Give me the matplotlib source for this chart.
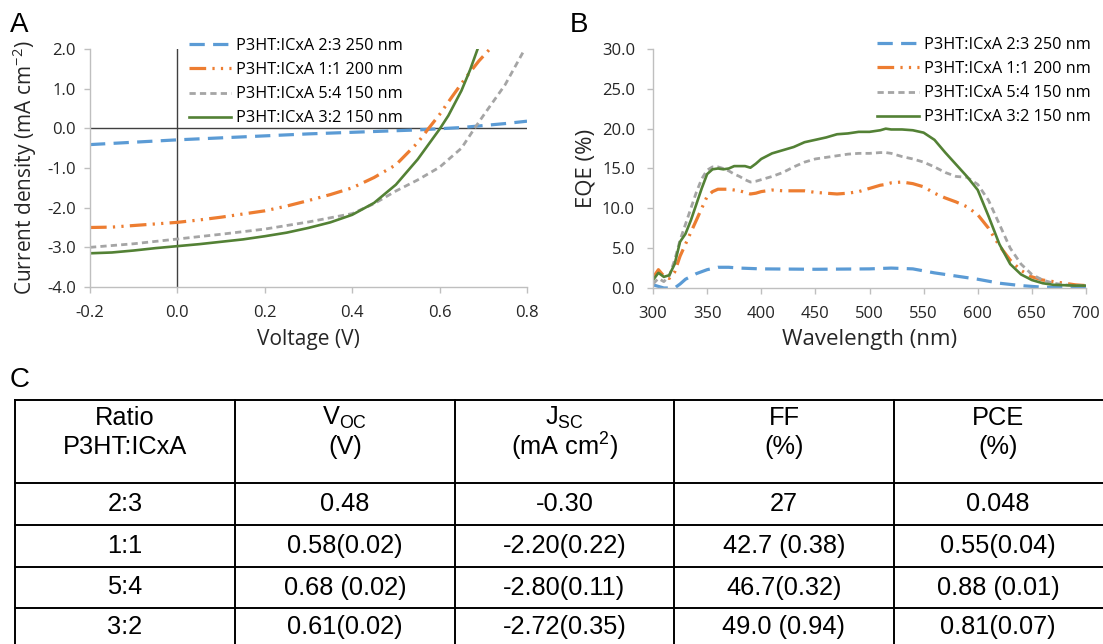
import matplotlib
matplotlib.use('Agg')
import matplotlib.pyplot as plt

plt.rcParams['font.family'] = ['Open Sans', 'DejaVu Sans']
plt.rcParams['lines.scale_dashes'] = False

# --- panel A: J-V curves ---
labels = ['P3HT:ICxA 2:3 250 nm', 'P3HT:ICxA 1:1 200 nm',
          'P3HT:ICxA 5:4 150 nm', 'P3HT:ICxA 3:2 150 nm']

v_23 = [-0.2, -0.1, 0.0, 0.1, 0.2, 0.3, 0.4, 0.5, 0.55, 0.6, 0.65, 0.7, 0.75, 0.8]
j_23 = [-0.41, -0.35, -0.29, -0.24, -0.19, -0.14, -0.10, -0.06, -0.04, -0.01, 0.02, 0.07, 0.12, 0.18]

v_11 = [-0.2, -0.15, -0.1, -0.05, 0.0, 0.05, 0.1, 0.15, 0.2, 0.25, 0.3, 0.35, 0.4,
        0.45, 0.5, 0.55, 0.575, 0.6, 0.63, 0.66, 0.69, 0.715]
j_11 = [-2.50, -2.49, -2.45, -2.41, -2.37, -2.31, -2.24, -2.16, -2.08, -1.96, -1.82, -1.67, -1.50,
        -1.24, -0.92, -0.36, 0.0, 0.35, 0.82, 1.28, 1.70, 2.0]

v_54 = [-0.2, -0.1, 0.0, 0.1, 0.2, 0.3, 0.4, 0.45, 0.5, 0.55, 0.6, 0.65, 0.68, 0.7, 0.75, 0.795]
j_54 = [-3.00, -2.91, -2.79, -2.67, -2.54, -2.36, -2.15, -1.90, -1.58, -1.30, -0.98, -0.50, 0.0,
        0.32, 1.10, 2.0]

v_32 = [-0.2, -0.15, -0.1, -0.05, 0.0, 0.05, 0.1, 0.15, 0.2, 0.25, 0.3, 0.35, 0.4, 0.45, 0.5,
        0.55, 0.6, 0.62, 0.65, 0.67, 0.687]
j_32 = [-3.15, -3.13, -3.08, -3.02, -2.97, -2.92, -2.86, -2.80, -2.72, -2.63, -2.51, -2.37, -2.18,
        -1.88, -1.42, -0.78, -0.02, 0.32, 0.95, 1.48, 2.0]

# --- panel B: EQE spectra ---
wl_23 = [300, 305, 310, 315, 320, 325, 330, 340, 350, 360, 370, 380, 400, 450, 500, 520, 540,
         560, 580, 600, 620, 640, 660, 680, 700]
eqe_23 = [0.4, 0.2, 0.0, 0.0, 0.0, 0.5, 1.1, 1.8, 2.3, 2.6, 2.6, 2.5, 2.4, 2.35, 2.4, 2.5, 2.4,
          1.9, 1.5, 1.1, 0.6, 0.3, 0.1, 0.05, 0.1]

wl = [300, 305, 310, 315, 320, 325, 330, 335, 340, 345, 350, 355, 360, 365, 370, 375, 380, 385,
      390, 395, 400, 410, 420, 430, 440, 450, 460, 470, 480, 490, 500, 510, 515, 520, 530, 540,
      550, 560, 570, 580, 590, 600, 610, 620, 630, 640, 650, 660, 670, 680, 690, 700]
eqe_11 = [1.3, 2.3, 1.5, 1.2, 2.0, 4.0, 5.5, 7.0, 8.5, 10.0, 11.5, 12.1, 12.4, 12.4, 12.4, 12.3,
          12.2, 12.0, 11.8, 11.9, 12.1, 12.3, 12.2, 12.2, 12.2, 12.0, 11.9, 11.8, 11.9, 12.1,
          12.5, 12.9, 13.0, 13.2, 13.3, 13.1, 12.7, 11.9, 11.3, 10.8, 10.2, 9.2, 7.5, 5.3, 3.5,
          2.2, 1.4, 1.0, 0.8, 0.6, 0.4, 0.3]
eqe_54 = [0.5, 1.2, 0.8, 1.5, 3.5, 6.0, 8.0, 10.0, 12.0, 13.7, 14.8, 15.2, 15.2, 15.0, 14.7,
          14.3, 14.0, 13.6, 13.3, 13.4, 13.6, 14.0, 14.5, 15.2, 15.8, 16.2, 16.4, 16.6, 16.8,
          16.9, 16.9, 17.0, 17.0, 16.9, 16.5, 16.2, 15.8, 15.2, 14.5, 14.0, 13.9, 13.0, 11.0,
          8.0, 5.0, 3.0, 1.7, 1.0, 0.6, 0.4, 0.3, 0.3]
eqe_32 = [1.0, 1.9, 1.4, 1.6, 3.0, 5.8, 6.8, 8.5, 10.5, 12.5, 14.3, 14.9, 15.0, 14.9, 15.0, 15.3,
          15.3, 15.3, 15.1, 15.6, 16.2, 16.9, 17.3, 17.7, 18.3, 18.6, 18.9, 19.3, 19.4, 19.6,
          19.6, 19.8, 20.0, 19.9, 19.9, 19.8, 19.5, 18.6, 17.0, 15.5, 14.0, 12.3, 9.0, 5.5,
          3.0, 1.7, 1.0, 0.6, 0.4, 0.35, 0.3, 0.3]

# --- panel C: table ---
col_heads = [['Ratio', 'P3HT:ICxA'],
             [r'V$_\mathregular{OC}$', '(V)'],
             [r'J$_\mathregular{SC}$', r'(mA cm$^\mathregular{2}$)'],
             ['FF', '(%)'],
             ['PCE', '(%)']]
ratios = ['2:3', '1:1', '5:4', '3:2']
voc = ['0.48', '0.58(0.02)', '0.68 (0.02)', '0.61(0.02)']
jsc = ['-0.30', '-2.20(0.22)', '-2.80(0.11)', '-2.72(0.35)']
ff = ['27', '42.7 (0.38)', '46.7(0.32)', '49.0 (0.94)']
pce = ['0.048', '0.55(0.04)', '0.88 (0.01)', '0.81(0.07)']

colors = ['#5B9BD5', '#ED7D31', '#A5A5A5', '#538135']
styles = [dict(lw=2.3, dashes=(11, 6)),
          dict(lw=2.3, dashes=(12, 4.5, 1.6, 4.5, 1.6, 4.5)),
          dict(lw=2.0, dashes=(4.5, 3)),
          dict(lw=1.9)]

W, H = 1103, 644
fig = plt.figure(figsize=(W / 100, H / 100), dpi=100)


def px_axes(l, t, r, b):
    return fig.add_axes([l / W, 1 - b / H, (r - l) / W, (b - t) / H])


def style_axes(ax, size, ypad):
    for s in ['top', 'right']:
        ax.spines[s].set_visible(False)
    for s in ['left', 'bottom']:
        ax.spines[s].set_color('#BFBFBF')
        ax.spines[s].set_linewidth(1.0)
    ax.tick_params(colors='#BFBFBF', labelcolor='#262626', labelsize=size, length=4, width=1)
    ax.tick_params(axis='y', pad=ypad)
    ax.tick_params(axis='x', pad=9)


leg_kw = dict(frameon=False, fontsize=11.7, handlelength=2.6, handletextpad=0.3,
              labelspacing=0.5, borderpad=0, borderaxespad=0, bbox_transform=fig.transFigure)

# panel A
axA = px_axes(90, 49, 527, 287)
for x, y, c, st, lab in zip([v_23, v_11, v_54, v_32], [j_23, j_11, j_54, j_32], colors, styles, labels):
    axA.plot(x, y, color=c, label=lab, **st)
axA.axhline(0, color='#404040', lw=1.0, zorder=0)
axA.axvline(0, color='#404040', lw=1.0, zorder=0)
axA.set_xlim(-0.2, 0.8)
axA.set_ylim(-4.0, 2.0)
axA.set_xticks([-0.2, 0.0, 0.2, 0.4, 0.6, 0.8])
axA.set_yticks([-4, -3, -2, -1, 0, 1, 2])
axA.xaxis.set_major_formatter(plt.FormatStrFormatter('%.1f'))
axA.yaxis.set_major_formatter(plt.FormatStrFormatter('%.1f'))
style_axes(axA, 12, 6)
axA.set_xlabel('Voltage (V)', fontsize=15, color='#262626', labelpad=6)
axA.set_ylabel(r'Current density (mA cm$^\mathregular{-2}$)', fontsize=15, color='#262626',
               labelpad=6)
axA.legend(loc='upper left', bbox_to_anchor=(189 / W, 1 - 38 / H), **leg_kw)

# panel B
axB = px_axes(653, 49, 1086, 288)
for x, y, c, st, lab in zip([wl_23, wl, wl, wl], [eqe_23, eqe_11, eqe_54, eqe_32], colors, styles, labels):
    axB.plot(x, y, color=c, label=lab, **st)
axB.set_xlim(300, 700)
axB.set_ylim(0, 30)
axB.set_xticks(range(300, 701, 50))
axB.set_yticks(range(0, 31, 5))
axB.yaxis.set_major_formatter(plt.FormatStrFormatter('%.1f'))
style_axes(axB, 12, 9)
axB.set_xlabel('Wavelength (nm)', fontsize=16, color='#262626', labelpad=5)
axB.set_ylabel('EQE (%)', fontsize=16, color='#262626', labelpad=4)
axB.legend(loc='upper right', bbox_to_anchor=(1091 / W, 1 - 37 / H), **leg_kw)

# panel letters and table
axT = fig.add_axes([0, 0, 1, 1])
axT.set_xlim(0, W)
axT.set_ylim(H, 0)
axT.axis('off')
for x, y, s in [(10, 25, 'A'), (570, 25, 'B'), (10, 380, 'C')]:
    axT.text(x, y, s, fontsize=20, family='Liberation Sans', va='center', ha='left')

col_x = [15, 235, 455, 674, 894, 1110]
row_y = [400, 483, 525, 567, 608, 650]
for x in col_x[:-1]:
    axT.plot([x, x], [row_y[0], H + 5], color='black', lw=1.4)
for y in row_y[:-1]:
    axT.plot([col_x[0], W + 5], [y, y], color='black', lw=1.4)

centers = [(col_x[i] + col_x[i + 1]) / 2 for i in range(5)]
centers[-1] = 998
tfont = dict(ha='center', va='center', fontsize=18.3, family='Liberation Sans')
for cx, head in zip(centers, col_heads):
    axT.text(cx, 418, head[0], **tfont)
    axT.text(cx, 447, head[1], **tfont)
rows_text = list(zip(ratios, voc, jsc, ff, pce))
for r, vals in enumerate(rows_text):
    yc = (row_y[r + 1] + row_y[r + 2]) / 2 if r < 3 else 627
    for cx, v in zip(centers, vals):
        axT.text(cx, yc, v, **tfont)

fig.savefig('out.png', dpi=100)
